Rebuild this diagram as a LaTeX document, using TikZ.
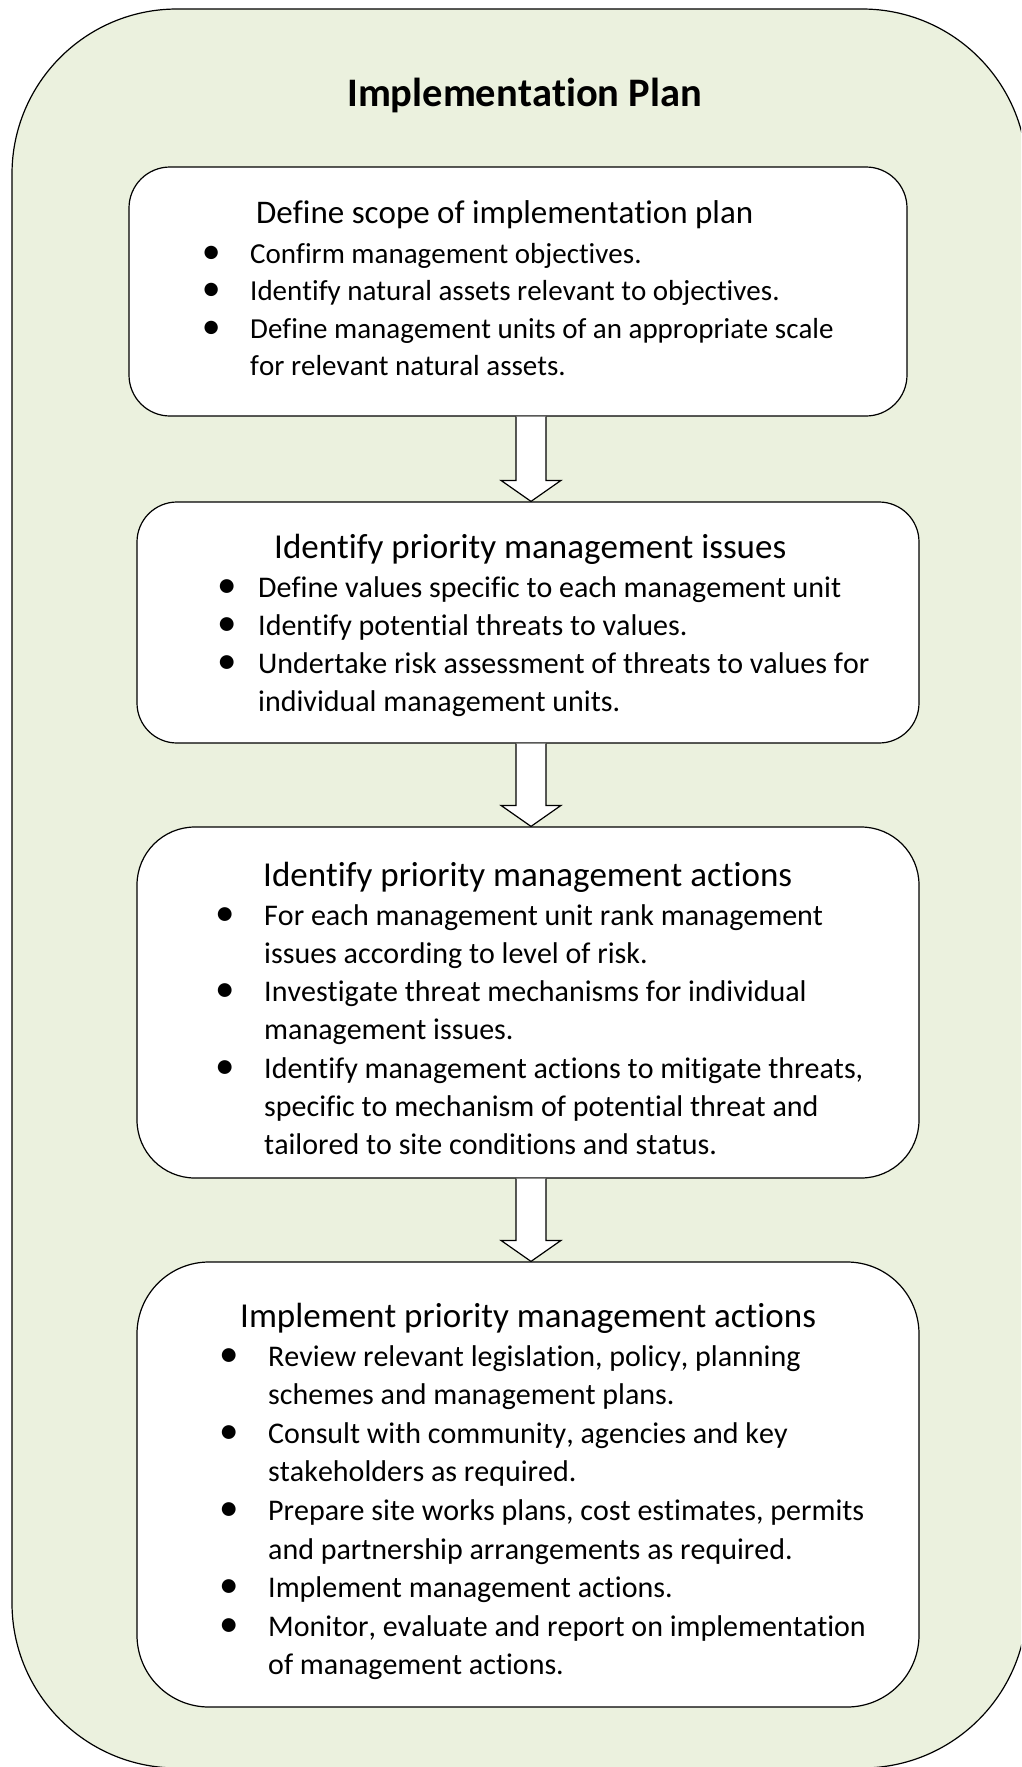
\documentclass[tikz,border=0pt]{standalone}
\usepackage{fontspec}
\setmainfont{Carlito}[Kerning=Off,Ligatures=NoCommon]
\usetikzlibrary{calc}

\definecolor{plangreen}{RGB}{235,241,222}
\newcommand{\bul}{\makebox[0pt]{\scalebox{1.3}{\textbullet}}}

\begin{document}
\begin{tikzpicture}
        [x=1pt,y=-1pt,
        stage/.style={draw,line width=1.2pt,fill=white},
        flow/.style={draw,line width=1.2pt,fill=white,line join=miter},
        heading/.style={anchor=base west,inner sep=0pt,font=\fontsize{35}{42}\selectfont},
        items/.style={anchor=base west,inner sep=0pt,font=\fontsize{30}{38.3}\selectfont}]
        \useasboundingbox (0,0) rectangle (1021,1767);
        \clip (0,0) rectangle (1021,1767);

        % the green plan frame
        \draw[line width=1.2pt,fill=plangreen,rounded corners=165pt] (12,9) rectangle (1027,1768);
        \node[anchor=base west,inner sep=0pt,font=\fontsize{40.5}{50}\selectfont\bfseries] (title) at (347,106) {Implementation Plan};

        % the four stages
        \node[stage,minimum width=778pt,minimum height=249pt,rounded corners=41pt] (box1) at (518,291.5) {};
        \node[stage,minimum width=782pt,minimum height=241pt,rounded corners=40pt] (box2) at (528,622.5) {};
        \node[stage,minimum width=782pt,minimum height=351pt,rounded corners=58pt] (box3) at (528,1002.5) {};
        \node[stage,minimum width=782pt,minimum height=445pt,rounded corners=72pt] (box4) at (528,1484.5) {};
        \coordinate (ax) at (531,0);

        % block arrows between the stages
        \draw[flow] ($(box1.south -| ax)+(-15,0)$) -- ($(box2.north -| ax)+(-15,-21)$) -- ++(-15,0) -- (box2.north -| ax) -- ++(30,-21) -- ++(-15,0) -- ($(box1.south -| ax)+(15,0)$);
        \draw[flow] ($(box2.south -| ax)+(-15,0)$) -- ($(box3.north -| ax)+(-15,-21)$) -- ++(-15,0) -- (box3.north -| ax) -- ++(30,-21) -- ++(-15,0) -- ($(box2.south -| ax)+(15,0)$);
        \draw[flow] ($(box3.south -| ax)+(-15,0)$) -- ($(box4.north -| ax)+(-15,-21)$) -- ++(-15,0) -- (box4.north -| ax) -- ++(30,-21) -- ++(-15,0) -- ($(box3.south -| ax)+(15,0)$);

        % stage 1
        \node[heading,font=\fontsize{33}{40}\selectfont] (head1) at (256,223) {Define scope of implementation plan};
        \node[items,font=\fontsize{29}{37.5}\selectfont] (list1) at (211,263) {\begin{tabular}[t]{@{}c@{\hspace{39pt}}l@{}}
            \bul & Confirm management objectives.\\
            \bul & Identify natural assets relevant to objectives.\\
            \bul & Define management units of an appropriate scale\\
                 & for relevant natural assets.
            \end{tabular}};

        % stage 2
        \node[heading] (head2) at (274,558) {Identify priority management issues};
        \node[items] (list2) at (227,597) {\begin{tabular}[t]{@{}c@{\hspace{31pt}}l@{}}
            \bul & Define values specific to each management unit\\
            \bul & Identify potential threats to values.\\
            \bul & Undertake risk assessment of threats to values for\\
                 & individual management units.
            \end{tabular}};

        % stage 3
        \node[heading] (head3) at (263,886) {Identify priority management actions};
        \node[items] (list3) at (225,925) {\begin{tabular}[t]{@{}c@{\hspace{39pt}}l@{}}
            \bul & For each management unit rank management\\
                 & issues according to level of risk.\\
            \bul & Investigate threat mechanisms for individual\\
                 & management issues.\\
            \bul & Identify management actions to mitigate threats,\\
                 & specific to mechanism of potential threat and\\
                 & tailored to site conditions and status.
            \end{tabular}};

        % stage 4
        \node[heading] (head4) at (240,1327) {Implement priority management actions};
        \node[items,font=\fontsize{30}{38.6}\selectfont] (list4) at (229,1366) {\begin{tabular}[t]{@{}c@{\hspace{39pt}}l@{}}
            \bul & Review relevant legislation, policy, planning\\
                 & schemes and management plans.\\
            \bul & Consult with community, agencies and key\\
                 & stakeholders as required.\\
            \bul & Prepare site works plans, cost estimates, permits\\
                 & and partnership arrangements as required.\\
            \bul & Implement management actions.\\
            \bul & Monitor, evaluate and report on implementation\\
                 & of management actions.
            \end{tabular}};
\end{tikzpicture}
\end{document}
